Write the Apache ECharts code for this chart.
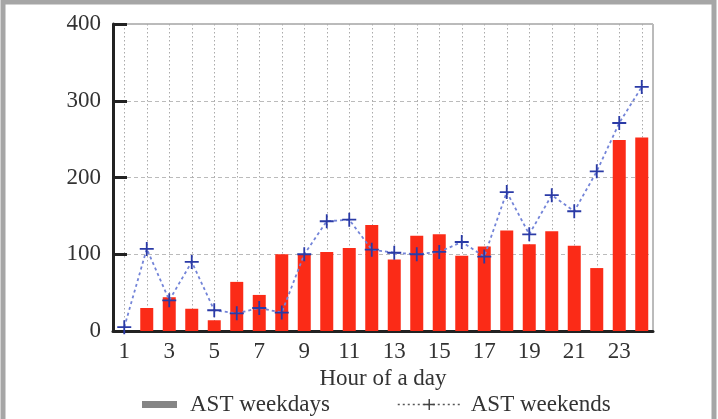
<!DOCTYPE html>
<html>
<head>
<meta charset="utf-8">
<script src="https://cdn.jsdelivr.net/npm/echarts@6/dist/echarts.min.js"></script>
<style>
html,body{margin:0;padding:0;background:#fff;}
#c{width:718px;height:419px;}
</style>
</head>
<body>
<div id="c"></div>
<script>
const hours = ['1','2','3','4','5','6','7','8','9','10','11','12','13','14','15','16','17','18','19','20','21','22','23','24'];
const weekdays = [0,30,44,29,14,64,47,100,99,103,108,138,93,124,126,98,110,131,113,130,111,82,249,252];
const weekends = [5,107,40,90,27,23,30,24,100,143,145,106,102,100,103,116,97,181,126,177,156,208,271,318];
const yTicks = {min:0, max:400, interval:100};
const xAxisName = 'Hour of a day';
const seriesNames = ['AST weekdays','AST weekends'];

const font = 'Liberation Serif';
const fs = 23;
const plus = 'path://M4.35,0h1.3v4.35h4.35v1.3h-4.35v4.35h-1.3v-4.35h-4.35v-1.3h4.35z';
const chart = echarts.init(document.getElementById('c'), null, {renderer:'canvas'});
chart.setOption({
  animation:false,
  backgroundColor:'#fff',
  graphic:[{type:'rect', silent:true, z:-1,
    shape:{x:3,y:2,width:711,height:440},
    style:{fill:'none', stroke:'#a6a6a6', lineWidth:5}}],
  grid:{left:113, right:65, top:24, bottom:88, show:true, borderColor:'#777', borderWidth:1, backgroundColor:'#fff'},
  legend:[
    {left:137, top:388, data:[{name:seriesNames[0], icon:'rect', itemStyle:{color:'#858585'}}],
     itemWidth:35, itemHeight:7, textStyle:{fontFamily:font, fontSize:fs, color:'#333', padding:[0,0,0,8]}},
    {left:392, top:388, data:[{name:seriesNames[1], itemStyle:{color:'#444'}, lineStyle:{color:'#555', type:[2,3], width:1.5}}],
     itemWidth:63, itemHeight:14, textStyle:{fontFamily:font, fontSize:fs, color:'#333', padding:[0,0,0,5]}}
  ],
  xAxis:{
    type:'category', data:hours, boundaryGap:true,
    name:xAxisName, nameLocation:'middle', nameGap:33,
    nameTextStyle:{fontFamily:font, fontSize:fs, color:'#333'},
    axisLine:{lineStyle:{color:'#222', width:3}},
    axisTick:{show:false},
    axisLabel:{interval:1, margin:9, fontFamily:font, fontSize:fs, color:'#333'},
    splitLine:{show:true, interval:0, alignWithLabel:true, lineStyle:{color:'#aaa', type:[1.5,2.5], width:1}}
  },
  yAxis:{
    type:'value', min:yTicks.min, max:yTicks.max, interval:yTicks.interval,
    axisLine:{show:true, lineStyle:{color:'#222', width:3}},
    axisTick:{show:true, inside:true, length:14, lineStyle:{color:'#222', width:3}},
    axisLabel:{margin:12, fontFamily:font, fontSize:fs, color:'#333'},
    splitLine:{show:true, lineStyle:{color:'#bbb', type:[4,3], width:1}}
  },
  series:[
    {name:seriesNames[0], type:'bar', data:weekdays, barWidth:13,
     itemStyle:{color:'#fb2b17'}, z:2},
    {name:seriesNames[1], type:'line', data:weekends, symbol:plus, symbolSize:14,
     itemStyle:{color:'#2a3aa6'}, lineStyle:{color:'#7384d8', type:[3,3], width:1.8}, z:3}
  ]
});
</script>
</body>
</html>
